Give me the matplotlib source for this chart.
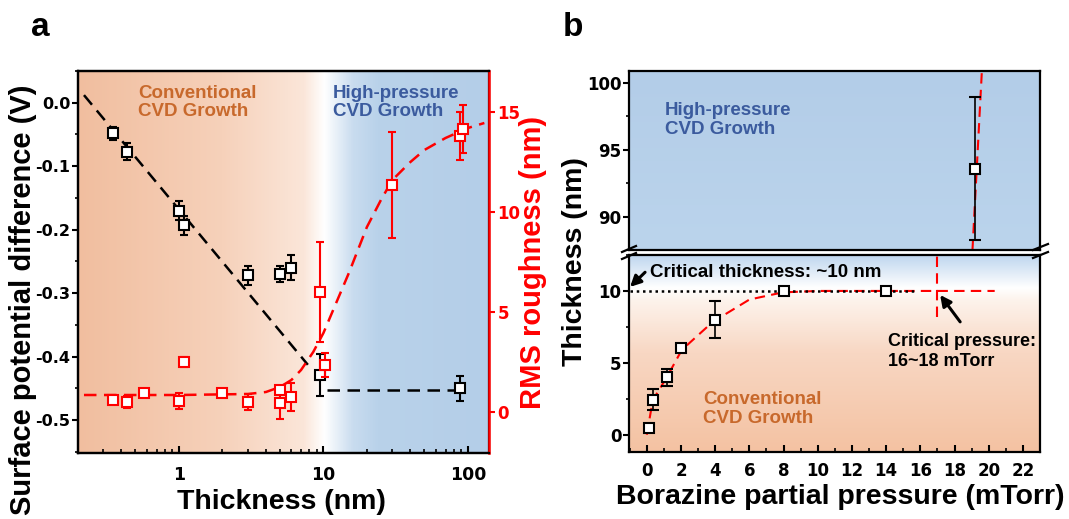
import numpy as np
import matplotlib.pyplot as plt
from matplotlib.colors import LinearSegmentedColormap
from matplotlib.lines import Line2D
from matplotlib.ticker import MultipleLocator, LogLocator, NullFormatter

plt.rcParams['font.family'] = ['Liberation Sans', 'DejaVu Sans']
plt.rcParams['font.weight'] = 'bold'
plt.rcParams['axes.linewidth'] = 1.6
plt.rcParams['axes.unicode_minus'] = False

# ---------------- panel a data ----------------
spd_x = [0.35, 0.44, 1.0, 1.08, 3.0, 5.0, 6.0, 9.5, 88]
spd_y = [-0.048, -0.077, -0.170, -0.193, -0.272, -0.270, -0.260, -0.429, -0.450]
spd_err = [0.010, 0.013, 0.015, 0.015, 0.015, 0.012, 0.020, 0.033, 0.020]

rms_x = [0.35, 0.44, 0.57, 1.0, 1.08, 2.0, 3.0, 5.0, 5.0, 6.0, 9.5, 10.2, 30, 88, 92]
rms_y = [0.6, 0.5, 0.95, 0.55, 2.5, 0.95, 0.5, 1.1, 0.45, 0.75, 6.0, 2.35, 11.35, 13.8, 14.15]
rms_err = [0.2, 0.3, 0.15, 0.4, 0.25, 0.15, 0.4, 0.2, 0.8, 0.7, 2.5, 0.6, 2.65, 1.2, 1.2]

# fitted guide lines
spd_fit_x = [0.22, 7.8]
spd_fit_y = [0.012, -0.413]
spd_flat_x = [10.6, 80]
spd_flat_y = [-0.453, -0.453]

rms_fit_x = [0.22, 1, 3, 4, 5, 6, 7, 8.5, 10, 12, 15, 20, 25, 30, 40, 50, 70, 100, 130]
rms_fit_y = [0.85, 0.85, 0.9, 1.0, 1.25, 1.6, 2.1, 3.0, 3.95, 5.3, 6.95, 9.25, 10.6, 11.6, 12.5, 13.1, 13.7, 14.2, 14.45]

# ---------------- panel b data ----------------
pp_x = [0.15, 0.37, 1.2, 2.0, 4.0, 8.0, 14.0]
thk_y = [0.45, 2.45, 4.0, 6.0, 8.0, 10.0, 10.0]
thk_err = [0.12, 0.7, 0.6, 0.15, 1.3, 0.3, 0.3]
hp_x = [19.2]
hp_y = [93.6]
hp_err = [5.35]

thk_fit_x = [0.0, 0.35, 1.17, 2.05, 3.86, 6.0, 7.95, 10.0, 14.0, 20.35]
thk_fit_y = [0.0, 2.4, 4.0, 5.9, 7.85, 9.4, 9.9, 10.0, 10.0, 10.0]
crit_v_x = [17.0, 17.0]
crit_v_y = [8.2, 12.5]
top_v_x = [19.05, 19.6]
top_v_y = [87.5, 100.9]
crit_dot_x = [-1.0, 15.7]
crit_dot_y = [10.0, 10.0]

ORANGE_TXT = '#C8692C'
BLUE_TXT = '#3B5B9E'
RED = '#FF0000'
TICKFONT = 'DejaVu Sans'

W, H = 1069, 519
fig = plt.figure(figsize=(W / 100, H / 100), dpi=100)


def px_box(l, t, r, b):
    return [l / W, 1 - b / H, (r - l) / W, (b - t) / H]


def background(box, stops, horizontal):
    bg = fig.add_axes(box, zorder=0)
    cmap = LinearSegmentedColormap.from_list('bg', stops)
    g = np.linspace(0, 1, 256)
    img = g[None, :] if horizontal else g[:, None]
    bg.imshow(img, cmap=cmap, extent=[0, 1, 0, 1], aspect='auto', origin='lower')
    bg.set_axis_off()
    return bg


# ================= panel a =================
box_a = px_box(78, 71, 489, 453)
background(box_a, [(0.0, '#F1BE9F'), (0.35, '#F6D1BA'), (0.55, '#FBE6D9'),
                   (0.60, '#FFFFFF'), (0.67, '#C9DCEF'), (0.73, '#B9D2EA'),
                   (1.0, '#B4CEE8')], True)
ax = fig.add_axes(box_a, zorder=1)
ax.patch.set_alpha(0)
ax.set_xscale('log')
ax.set_xlim(0.2, 140)
ax.set_ylim(-0.552, 0.05)

ax.plot(spd_fit_x, spd_fit_y, ls=(0, (5, 3)), color='black', lw=1.8)
ax.plot(spd_flat_x, spd_flat_y, ls=(0, (5, 3)), color='black', lw=1.8)
ax.errorbar(spd_x, spd_y, yerr=spd_err, fmt='s', ms=7, mfc='white', mec='black',
            mew=1.5, ecolor='black', elinewidth=1.5, capsize=3, capthick=1.5, zorder=3)

ax.yaxis.set_minor_locator(MultipleLocator(0.05))
ax.set_yticks([0.0, -0.1, -0.2, -0.3, -0.4, -0.5])
ax.set_yticklabels(['0.0', '-0.1', '-0.2', '-0.3', '-0.4', '-0.5'])
ax.xaxis.set_minor_locator(LogLocator(base=10, subs=np.arange(2, 10), numticks=10))
ax.xaxis.set_minor_formatter(NullFormatter())
ax.set_xticks([1, 10, 100])
ax.set_xticklabels(['1', '10', '100'])
ax.tick_params(axis='x', direction='in', length=5, width=1.5, labelsize=12.5, pad=9,
               labelfontfamily=TICKFONT)
ax.tick_params(axis='x', which='minor', direction='in', length=3, width=1.2)
ax.tick_params(axis='y', direction='out', length=4, width=1.5, labelsize=11.5, pad=1.5,
               labelfontfamily=TICKFONT)
ax.tick_params(axis='y', which='minor', direction='out', length=2.5, width=1.2)

ax.text(0.146, 0.9175, 'Conventional\nCVD Growth', transform=ax.transAxes, color=ORANGE_TXT,
        fontsize=13.5, fontweight='bold', va='center', linespacing=1.1)
ax.text(0.620, 0.9175, 'High-pressure\nCVD Growth', transform=ax.transAxes, color=BLUE_TXT,
        fontsize=13.5, fontweight='bold', va='center', linespacing=1.1)

ax2 = ax.twinx()
ax2.set_zorder(2)
ax2.set_ylim(-2.05, 17.05)
ax2.plot(rms_fit_x, rms_fit_y, ls=(0, (5, 3)), color=RED, lw=1.8)
ax2.errorbar(rms_x, rms_y, yerr=rms_err, fmt='s', ms=7, mfc='white', mec=RED,
             mew=1.5, ecolor=RED, elinewidth=1.5, capsize=3, capthick=1.5, zorder=3)
ax2.set_yticks([0, 5, 10, 15])
ax2.tick_params(axis='y', colors=RED, direction='out', length=4, width=1.5, labelsize=12,
                pad=2, labelfontfamily=TICKFONT)
ax2.spines['right'].set_color(RED)
ax2.spines['right'].set_linewidth(1.8)

fig.text(23 / W, 1 - 300 / H, 'Surface potential difference (V)', rotation=90,
         fontsize=21, fontweight='bold', ha='center', va='center')
fig.text(533 / W, 1 - 262 / H, 'RMS roughness (nm)', rotation=90, color=RED,
         fontsize=21, fontweight='bold', ha='center', va='center')
fig.text(281 / W, 1 - 502 / H, 'Thickness (nm)', fontsize=20.5, fontweight='bold',
         ha='center', va='center')
fig.text(40 / W, 1 - 28 / H, 'a', fontsize=24, fontweight='bold', ha='center', va='center')

# ================= panel b =================
box_top = px_box(629, 71, 1040, 250)
box_bot = px_box(629, 255, 1040, 452)
background(box_top, [(0.0, '#BBD4EC'), (1.0, '#B3CDE8')], False)
background(box_bot, [(0.0, '#F4C2A2'), (0.5, '#F8D7C3'), (0.77, '#FDF3EC'),
                     (0.83, '#FFFFFF'), (1.0, '#BDD5EE')], False)

bt = fig.add_axes(box_top, zorder=1)
bb = fig.add_axes(box_bot, zorder=1)
for a in (bt, bb):
    a.patch.set_alpha(0)
    a.set_xlim(-1.04, 23.0)
    a.xaxis.set_major_locator(MultipleLocator(2))
    a.xaxis.set_minor_locator(MultipleLocator(1))
    a.yaxis.set_major_locator(MultipleLocator(5))
    a.yaxis.set_minor_locator(MultipleLocator(2.5))
    a.tick_params(axis='y', direction='out', length=4, width=1.5, labelsize=12, pad=1.5,
                  labelfontfamily=TICKFONT)
    a.tick_params(axis='y', which='minor', direction='out', length=2.5, width=1.2)
    a.tick_params(axis='x', direction='in', length=5, width=1.5, labelsize=12, pad=7,
                  labelfontfamily=TICKFONT)
    a.tick_params(axis='x', which='minor', direction='in', length=3, width=1.2)

bt.set_ylim(87.5, 100.9)
bt.tick_params(axis='x', which='both', bottom=False, labelbottom=False)
bt.plot(top_v_x, top_v_y, ls=(0, (5, 3)), color=RED, lw=1.5)
bt.errorbar(hp_x, hp_y, yerr=hp_err, fmt='s', ms=7, mfc='white', mec='black',
            mew=1.5, ecolor='black', elinewidth=1.2, capsize=4, capthick=1.2, zorder=3)
bt.text(1.07, 97.24, 'High-pressure\nCVD Growth', color=BLUE_TXT, fontsize=13.5,
        fontweight='bold', va='center', linespacing=1.1)

bb.set_ylim(-1.2, 12.5)
bb.plot(thk_fit_x, thk_fit_y, ls=(0, (5, 3)), color=RED, lw=1.5)
bb.plot(crit_v_x, crit_v_y, ls=(0, (5, 3)), color=RED, lw=1.5)
bb.plot(crit_dot_x, crit_dot_y, ls=(0, (1, 1.5)), color='black', lw=1.8)
bb.errorbar(pp_x, thk_y, yerr=thk_err, fmt='s', ms=7, mfc='white', mec='black',
            mew=1.5, ecolor='black', elinewidth=1.2, capsize=4, capthick=1.2, zorder=3)

arrow_kw = dict(arrowstyle='-|>', color='black', lw=2.2, mutation_scale=16,
                shrinkA=0, shrinkB=0)
bb.annotate('', xy=(-0.98, 10.28), xytext=(-0.1, 11.3), arrowprops=arrow_kw, annotation_clip=False)
bb.text(0.2, 11.25, 'Critical thickness: ~10 nm', fontsize=13.5, fontweight='bold', va='center')
bb.annotate('', xy=(17.16, 9.72), xytext=(18.33, 7.85), arrowprops=arrow_kw)
bb.text(14.12, 5.8, 'Critical pressure:\n16~18 mTorr', fontsize=13, fontweight='bold',
        va='center', linespacing=1.25)
bb.text(3.3, 1.8, 'Conventional\nCVD Growth', color=ORANGE_TXT, fontsize=13.5,
        fontweight='bold', va='center', linespacing=1.15)

# axis break marks
for (x0, y0, x1, y1) in [(622, 252, 636, 246), (622, 259, 636, 253),
                         (1033, 250, 1048, 244), (1033, 258, 1048, 252)]:
    fig.add_artist(Line2D([x0 / W, x1 / W], [1 - y0 / H, 1 - y1 / H],
                          color='black', lw=1.6, zorder=5))

fig.text(575 / W, 1 - 262 / H, 'Thickness (nm)', rotation=90,
         fontsize=20.5, fontweight='bold', ha='center', va='center')
fig.text(840 / W, 1 - 497 / H, 'Borazine partial pressure (mTorr)', fontsize=20.5,
         fontweight='bold', ha='center', va='center')
fig.text(573 / W, 1 - 28 / H, 'b', fontsize=24, fontweight='bold', ha='center', va='center')

fig.savefig('out.png', dpi=100)
